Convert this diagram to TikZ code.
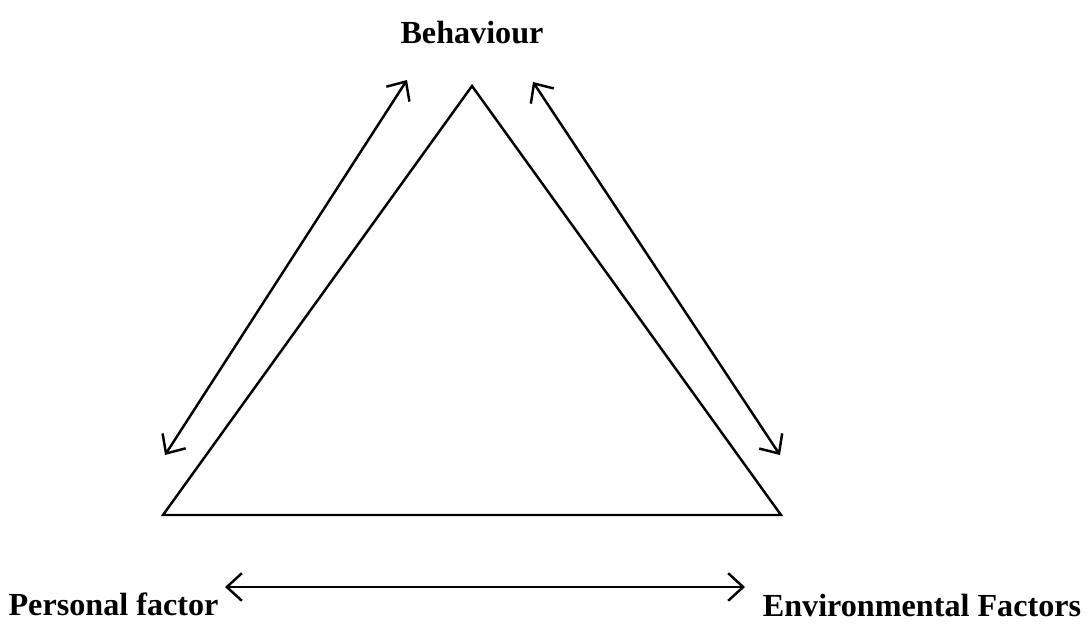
\documentclass[tikz,border=0pt]{standalone}
\usepackage{fontspec}
\setmainfont{Liberation Serif}
\usetikzlibrary{arrows.meta}

\begin{document}
\begin{tikzpicture}[line width=1.4pt,>={Straight Barb[length=3mm,width=5.5mm]}]
        \useasboundingbox (0,0) rectangle (21.74,12.46);
        \draw (9.44,10.74) coordinate (T) -- (15.62,2.16) coordinate (R) -- (3.26,2.16) coordinate (L) -- cycle;
        \node[font=\bfseries\fontsize{18.3}{20}\selectfont] (beh) at (9.44,11.8) {Behaviour};
        \node[font=\bfseries\fontsize{18.3}{20}\selectfont] (pers) at (2.27,0.37) {Personal factor};
        \node[font=\bfseries\fontsize{18.3}{20}\selectfont] (env) at (18.44,0.36) {Environmental Factors};
        \coordinate (a1) at (8.14,10.86);
        \coordinate (a2) at (3.3,3.36);
        \coordinate (b1) at (10.66,10.82);
        \coordinate (b2) at (15.6,3.36);
        \coordinate (c1) at (4.5,0.72);
        \coordinate (c2) at (14.9,0.72);
        \draw[<->] (a1) -- (a2);
        \draw[<->] (b1) -- (b2);
        \draw[<->] (c1) -- (c2);
    \end{tikzpicture}
\end{document}
